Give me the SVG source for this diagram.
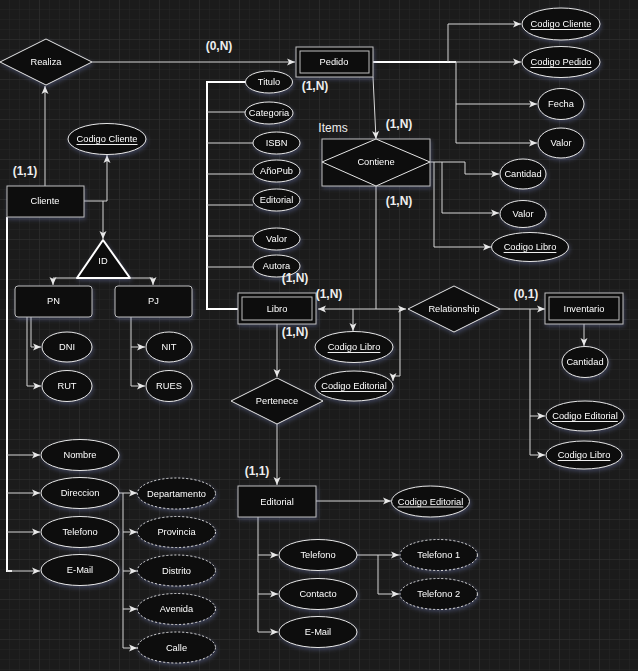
<svg xmlns="http://www.w3.org/2000/svg" width="638" height="671" viewBox="0 0 638 671">
<defs>
<pattern id="gmin" width="10" height="10" patternUnits="userSpaceOnUse"><path d="M10,0 V10 M0,10 H10" fill="none" stroke="#262626" stroke-width="1"/></pattern>
<pattern id="gmaj" width="40" height="40" patternUnits="userSpaceOnUse"><path d="M40,0 V40 M0,40 H40" fill="none" stroke="#303030" stroke-width="1"/></pattern>
<marker id="arr" markerWidth="9" markerHeight="8" refX="8" refY="4" orient="auto-start-reverse" markerUnits="userSpaceOnUse"><path d="M0,0.5 L8,4 L0,7.5 L2,4 z" fill="#e8e8e8"/></marker>
<filter id="glow" x="-30%" y="-30%" width="160%" height="170%"><feDropShadow dx="1" dy="2" stdDeviation="2" flood-color="#7a86c8" flood-opacity="0.35"/></filter>
<style>
.n{fill:#0e0e0e;stroke:#e6e6e6;stroke-width:1}
.r{fill:#0e0e0e;stroke:#bdbdbd;stroke-width:1}
.d{fill:#0e0e0e;stroke:#e6e6e6;stroke-width:1;stroke-dasharray:2 2}
.t{font-family:"Liberation Sans",Arial,sans-serif;font-size:9.3px;fill:#ffffff;text-anchor:middle;dominant-baseline:central}
.u{text-decoration:underline}
.lb{font-family:"Liberation Sans",Arial,sans-serif;font-size:12px;font-weight:bold;fill:#eeeeee;text-anchor:middle;dominant-baseline:central}
.lr{font-family:"Liberation Sans",Arial,sans-serif;font-size:12px;fill:#eeeeee;text-anchor:middle;dominant-baseline:central}
.c path{fill:none;stroke:#d6d6d6;stroke-width:1}
.c .a{marker-end:url(#arr)}
.c .w{stroke:#ffffff;stroke-width:2}
g.node{filter:url(#glow)}
</style>
</defs>
<rect width="638" height="671" fill="#1b1b1b"/>
<rect width="638" height="671" fill="url(#gmin)"/>
<rect width="638" height="671" fill="url(#gmaj)"/>

<g id="connectors" class="c">
<path class="a" d="M45,186 V86"/>
<path class="a" d="M92,62 H295"/>
<path class="w" d="M373,62 H456"/>
<path class="a" d="M448,62 V24 H521"/>
<path class="a" d="M450,62 H521"/>
<path class="a" d="M456,62 V104 H537"/>
<path class="a" d="M456,104 V143 H537"/>
<path class="a" d="M373,77 L376,139"/>
<path class="a" d="M430,162 H465 V174 H499"/>
<path class="a" d="M442,162 V213 H499"/>
<path class="a" d="M434,162 V247 H491"/>
<path d="M376,186 V309"/>
<path class="w" d="M246,82 H207 V309 H238"/>
<path d="M207,112 H245 M207,143 H253 M207,174 H253 M207,205 H253 M207,236 H253 M207,267 H253"/>
<path class="a" style="marker-start:url(#arr)" d="M318,309 H406"/>
<path class="a" d="M353,309 V331"/>
<path class="a" d="M400,309 V376 H393 V381"/>
<path class="a" d="M277,324 V377"/>
<path class="a" d="M277,424 V485"/>
<path class="a" d="M500,309 H545"/>
<path class="a" d="M530,309 V455 H545"/>
<path class="a" d="M530,416 H545"/>
<path class="a" d="M584,324 V346"/>
<path class="a" d="M84,201 H107 V155"/>
<path class="a" d="M103,201 V239"/>
<path class="a" d="M77,278 H53 V285"/>
<path class="a" d="M131,278 H153 V285"/>
<path class="a" d="M31,317 V347 H41"/>
<path class="a" d="M27,317 V386 H41"/>
<path class="a" d="M131,317 V347 H145"/>
<path class="a" d="M131,347 V386 H145"/>
<path class="w" d="M7,217 V571 H12"/>
<path class="a" d="M7,571 H40"/>
<path class="a" d="M7,455 H40"/>
<path class="a" d="M7,493 H40"/>
<path class="a" d="M7,532 H40"/>
<path class="a" d="M119,493 H137"/>
<path class="a" d="M123,493 V648 H137"/>
<path class="a" d="M123,532 H137"/>
<path class="a" d="M123,571 H137"/>
<path class="a" d="M123,609 H137"/>
<path class="a" d="M316,501 H391"/>
<path class="a" d="M258,517 V632 H278"/>
<path class="a" d="M258,555 H278"/>
<path class="a" d="M258,594 H278"/>
<path class="a" d="M357,555 H399"/>
<path class="a" d="M378,555 V594 H399"/>
</g>

<g id="realiza" class="node"><polygon class="n" points="0,62 46,39 92,62 46,85"/><text class="t" x="46" y="62">Realiza</text></g>
<g id="pedido" class="node"><rect class="r" x="296" y="47" width="77" height="30"/><rect class="r" x="300" y="51" width="69" height="22"/><text class="t" x="334" y="62">Pedido</text></g>
<g id="pedido-codigo-cliente" class="node"><ellipse class="n" cx="561" cy="24" rx="39" ry="16"/><text class="t u" x="561" y="24">Codigo Cliente</text></g>
<g id="pedido-codigo-pedido" class="node"><ellipse class="n" cx="561" cy="62" rx="39" ry="15.5"/><text class="t u" x="561" y="62">Codigo Pedido</text></g>
<g id="pedido-fecha" class="node"><ellipse class="n" cx="561" cy="104" rx="23" ry="15.5"/><text class="t" x="561" y="104">Fecha</text></g>
<g id="pedido-valor" class="node"><ellipse class="n" cx="561" cy="143" rx="23" ry="15"/><text class="t" x="561" y="143">Valor</text></g>
<g id="contiene" class="node"><rect class="r" x="322" y="139" width="108" height="47"/><polygon class="n" points="322,162 376,139 430,162 376,186"/><text class="t" x="376" y="162">Contiene</text></g>
<g id="contiene-cantidad" class="node"><ellipse class="n" cx="523" cy="174" rx="23" ry="15"/><text class="t" x="523" y="174">Cantidad</text></g>
<g id="contiene-valor" class="node"><ellipse class="n" cx="523" cy="214" rx="23" ry="13.5"/><text class="t" x="523" y="214">Valor</text></g>
<g id="contiene-codigo-libro" class="node"><ellipse class="n" cx="530" cy="247" rx="38.5" ry="14.5"/><text class="t u" x="530" y="247">Codigo Libro</text></g>
<g id="titulo" class="node"><ellipse class="n" cx="269" cy="82" rx="23.5" ry="11"/><text class="t" x="269" y="82">Titulo</text></g>
<g id="categoria" class="node"><ellipse class="n" cx="269" cy="113" rx="24" ry="11"/><text class="t" x="269" y="113">Categoria</text></g>
<g id="isbn" class="node"><ellipse class="n" cx="276.5" cy="143" rx="23.5" ry="11"/><text class="t" x="276.5" y="143">ISBN</text></g>
<g id="anopub" class="node"><ellipse class="n" cx="276.5" cy="171" rx="23.5" ry="11"/><text class="t" x="276.5" y="171">AñoPub</text></g>
<g id="libro-editorial" class="node"><ellipse class="n" cx="276.5" cy="200" rx="23.5" ry="11"/><text class="t" x="276.5" y="200">Editorial</text></g>
<g id="libro-valor" class="node"><ellipse class="n" cx="276.5" cy="239" rx="23.5" ry="11"/><text class="t" x="276.5" y="239">Valor</text></g>
<g id="autora" class="node"><ellipse class="n" cx="276.5" cy="266" rx="23.5" ry="11"/><text class="t" x="276.5" y="266">Autora</text></g>
<g id="libro" class="node"><rect class="r" x="238" y="293" width="78" height="31"/><rect class="r" x="242" y="297" width="70" height="23"/><text class="t" x="277" y="309">Libro</text></g>
<g id="libro-codigo-libro" class="node"><ellipse class="n" cx="354" cy="347" rx="39" ry="15.5"/><text class="t u" x="354" y="347">Codigo Libro</text></g>
<g id="libro-codigo-editorial" class="node"><ellipse class="n" cx="354" cy="386" rx="39" ry="15"/><text class="t u" x="354" y="386">Codigo Editorial</text></g>
<g id="relationship" class="node"><polygon class="n" points="408,309 454,286 500,309 454,332"/><text class="t" x="454" y="309">Relationship</text></g>
<g id="inventario" class="node"><rect class="r" x="545" y="293" width="78" height="31"/><rect class="r" x="549" y="297" width="70" height="23"/><text class="t" x="584" y="309">Inventario</text></g>
<g id="inventario-cantidad" class="node"><ellipse class="n" cx="585" cy="362" rx="23" ry="15.5"/><text class="t" x="585" y="362">Cantidad</text></g>
<g id="inventario-codigo-editorial" class="node"><ellipse class="n" cx="585" cy="416" rx="39" ry="15"/><text class="t u" x="585" y="416">Codigo Editorial</text></g>
<g id="inventario-codigo-libro" class="node"><ellipse class="n" cx="584" cy="455" rx="38" ry="14"/><text class="t u" x="584" y="455">Codigo Libro</text></g>
<g id="cliente" class="node"><rect class="r" x="7" y="186" width="77" height="31"/><text class="t" x="45" y="201">Cliente</text></g>
<g id="cliente-codigo-cliente" class="node"><ellipse class="n" cx="107" cy="139" rx="39" ry="15.5"/><text class="t u" x="107" y="139">Codigo Cliente</text></g>
<g id="id" class="node"><polygon points="103,240 77,278 130,278" fill="#0e0e0e" stroke="#ffffff" stroke-width="2" stroke-linejoin="round"/><text class="t" x="103" y="261">ID</text></g>
<g id="pn" class="node"><rect class="r" x="15" y="286" width="77" height="31" rx="3"/><text class="t" x="53.5" y="301">PN</text></g>
<g id="pj" class="node"><rect class="r" x="115" y="286" width="77" height="31" rx="3"/><text class="t" x="153.5" y="301">PJ</text></g>
<g id="dni" class="node"><ellipse class="n" cx="67" cy="347" rx="25" ry="15"/><text class="t" x="67" y="347">DNI</text></g>
<g id="rut" class="node"><ellipse class="n" cx="67" cy="386" rx="25" ry="15.5"/><text class="t" x="67" y="386">RUT</text></g>
<g id="nit" class="node"><ellipse class="n" cx="169" cy="347" rx="23" ry="15"/><text class="t" x="169" y="347">NIT</text></g>
<g id="rues" class="node"><ellipse class="n" cx="169" cy="386" rx="23" ry="15.5"/><text class="t" x="169" y="386">RUES</text></g>
<g id="nombre" class="node"><ellipse class="n" cx="80" cy="455" rx="39" ry="15.5"/><text class="t" x="80" y="455">Nombre</text></g>
<g id="direccion" class="node"><ellipse class="n" cx="80" cy="493" rx="39" ry="15.5"/><text class="t" x="80" y="493">Direccion</text></g>
<g id="cliente-telefono" class="node"><ellipse class="n" cx="80" cy="532" rx="39" ry="15.5"/><text class="t" x="80" y="532">Telefono</text></g>
<g id="cliente-email" class="node"><ellipse class="n" cx="80" cy="570" rx="39" ry="15.5"/><text class="t" x="80" y="570">E-Mail</text></g>
<g id="departamento" class="node"><ellipse class="d" cx="176.5" cy="493.5" rx="39" ry="15.5"/><text class="t" x="176.5" y="493.5">Departamento</text></g>
<g id="provincia" class="node"><ellipse class="d" cx="176.5" cy="532" rx="39" ry="15.5"/><text class="t" x="176.5" y="532">Provincia</text></g>
<g id="distrito" class="node"><ellipse class="d" cx="176.5" cy="570.5" rx="39" ry="15.5"/><text class="t" x="176.5" y="570.5">Distrito</text></g>
<g id="avenida" class="node"><ellipse class="d" cx="176.5" cy="609" rx="39" ry="15.5"/><text class="t" x="176.5" y="609">Avenida</text></g>
<g id="calle" class="node"><ellipse class="d" cx="176.5" cy="647.5" rx="39" ry="15.5"/><text class="t" x="176.5" y="647.5">Calle</text></g>
<g id="pertenece" class="node"><polygon class="n" points="231,401 277,378 323,401 277,424"/><text class="t" x="277" y="401">Pertenece</text></g>
<g id="editorial" class="node"><rect class="r" x="238" y="486" width="78" height="31"/><text class="t" x="277" y="501.5">Editorial</text></g>
<g id="editorial-codigo-editorial" class="node"><ellipse class="n" cx="430.5" cy="501.5" rx="39" ry="15.5"/><text class="t u" x="430.5" y="501.5">Codigo Editorial</text></g>
<g id="editorial-telefono" class="node"><ellipse class="n" cx="318" cy="555" rx="39" ry="15.5"/><text class="t" x="318" y="555">Telefono</text></g>
<g id="contacto" class="node"><ellipse class="n" cx="318" cy="594" rx="39" ry="15.5"/><text class="t" x="318" y="594">Contacto</text></g>
<g id="editorial-email" class="node"><ellipse class="n" cx="318" cy="632" rx="39" ry="15.5"/><text class="t" x="318" y="632">E-Mail</text></g>
<g id="telefono1" class="node"><ellipse class="d" cx="438.7" cy="555" rx="38.7" ry="15.5"/><text class="t" x="438.7" y="555">Telefono 1</text></g>
<g id="telefono2" class="node"><ellipse class="d" cx="438.7" cy="594" rx="38.7" ry="15.5"/><text class="t" x="438.7" y="594">Telefono 2</text></g>

<g id="labels">
<text class="lb" x="219" y="46">(0,N)</text>
<text class="lb" x="315" y="86">(1,N)</text>
<text class="lr" x="333" y="128">Items</text>
<text class="lb" x="399" y="124">(1,N)</text>
<text class="lb" x="399" y="201">(1,N)</text>
<text class="lb" x="295" y="278">(1,N)</text>
<text class="lb" x="329" y="294">(1,N)</text>
<text class="lb" x="295" y="332">(1,N)</text>
<text class="lb" x="526" y="294">(0,1)</text>
<text class="lb" x="25" y="171">(1,1)</text>
<text class="lb" x="257" y="471">(1,1)</text>
</g>
</svg>
